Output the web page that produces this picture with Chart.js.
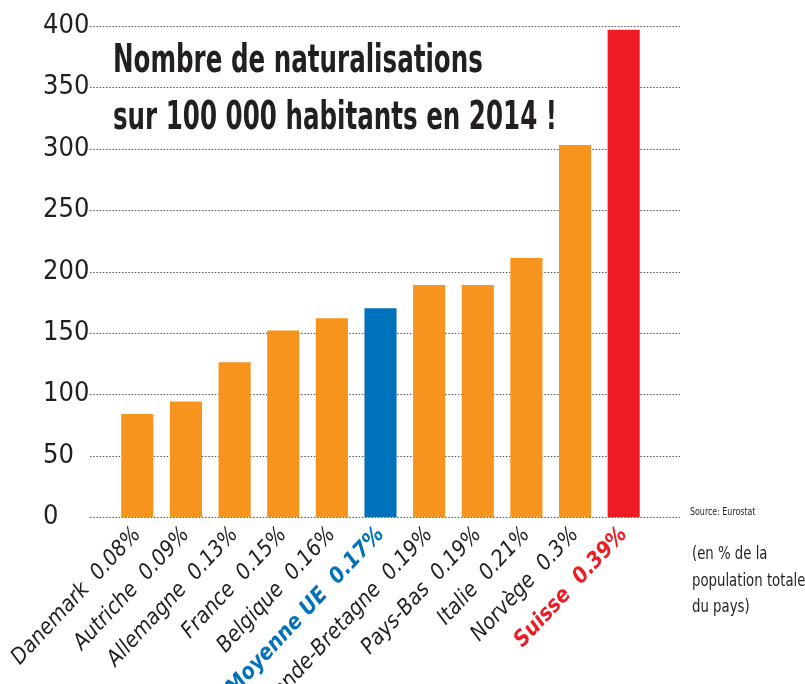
<!DOCTYPE html>
<html>
<head>
<meta charset="utf-8">
<script src="https://cdn.jsdelivr.net/npm/chart.js@4.4.1/dist/chart.umd.min.js"></script>
<style>
  html, body { margin: 0; padding: 0; background: #fff; }
  #wrap { position: relative; width: 805px; height: 684px; overflow: hidden; }
  #myChart { position: absolute; left: 0; top: 0; }
  .txt { position: absolute; font-family: "DejaVu Sans Condensed", "Liberation Sans Narrow", sans-serif; color: #231f20;
         white-space: nowrap; transform-origin: 0 0; }
  #title { left: 113px; top: 30px; font-size: 39px; font-weight: bold; line-height: 57px; transform: scaleX(0.7); }
  #source { left: 690px; top: 506px; font-size: 10px; transform: scaleX(0.88); }
  #note { left: 692px; top: 540px; font-size: 18px; line-height: 26.5px; transform: scaleX(0.82); }
</style>
</head>
<body>
<div id="wrap">
  <canvas id="myChart" width="805" height="684"></canvas>
  <div id="title" class="txt">Nombre de naturalisations<br>sur 100 000 habitants en 2014 !</div>
  <div id="source" class="txt">Source: Eurostat</div>
  <div id="note" class="txt">(en % de la<br>population totale<br>du pays)</div>
</div>
<script>
// data
const countries = ["Danemark", "Autriche", "Allemagne", "France", "Belgique", "Moyenne UE",
  "Grande-Bretagne", "Pays-Bas", "Italie", "Norvège", "Suisse"];
const shares = ["0.08%", "0.09%", "0.13%", "0.15%", "0.16%", "0.17%", "0.19%", "0.19%", "0.21%", "0.3%", "0.39%"];
const naturalisations = [84, 94, 126, 152, 162, 170, 189, 189, 211, 303, 397];
const yTicks = [0, 50, 100, 150, 200, 250, 300, 350, 400];

const ORANGE = "#f7941d", BLUE = "#0072bc", RED = "#ed1c24", INK = "#231f20";
const FONT = '"DejaVu Sans Condensed", "Liberation Sans Narrow", sans-serif';

const labels = countries.map((c, i) => c + "  " + shares[i]);
const barColors = countries.map((c) => c === "Moyenne UE" ? BLUE : (c === "Suisse" ? RED : ORANGE));
const labelColors = countries.map((c) => c === "Moyenne UE" ? BLUE : (c === "Suisse" ? RED : INK));

//dotted grid lines, wider than the bars area
const dottedGrid = {
  id: "dottedGrid",
  beforeDatasetsDraw(chart) {
    const { ctx, chartArea, scales } = chart;
    ctx.save();
    ctx.strokeStyle = "#4d4d4f";
    ctx.lineWidth = 1.2;
    ctx.setLineDash([1.4, 1.8]);
    yTicks.forEach((v) => {
      const y = Math.round(scales.y.getPixelForValue(v)) + 0.5;
      ctx.beginPath();
      ctx.moveTo(chartArea.left - 23, y);
      ctx.lineTo(chartArea.right + 32, y);
      ctx.stroke();
    });
    ctx.restore();
  }
};

new Chart(document.getElementById("myChart"), {
  type: "bar",
  data: {
    labels: labels,
    datasets: [{
      data: naturalisations,
      backgroundColor: barColors,
      borderWidth: 0,
      barPercentage: 0.66,
      categoryPercentage: 1
    }]
  },
  options: {
    responsive: false,
    animation: false,
    layout: { padding: { left: 43, right: 157, top: 26, bottom: 0 } },
    plugins: { legend: { display: false }, tooltip: { enabled: false } },
    scales: {
      x: {
        grid: { display: false, drawTicks: false },
        border: { display: false },
        ticks: {
          minRotation: 47,
          maxRotation: 47,
          padding: 5,
          autoSkip: false,
          color: labelColors,
          font: (c) => ({
            family: FONT,
            size: 22,
            style: "italic",
            weight: (c.index === 5 || c.index === 10) ? "bold" : "normal"
          })
        },
        afterFit(scale) { scale.height = 167; }
      },
      y: {
        min: 0,
        max: 400,
        grid: { display: false, drawTicks: false },
        border: { display: false },
        afterBuildTicks(scale) { scale.ticks = yTicks.map((v) => ({ value: v })); },
        ticks: {
          crossAlign: "far",
          padding: 0,
          color: INK,
          font: { family: FONT, size: 27 }
        },
        afterFit(scale) { scale.width = 70; }
      }
    }
  },
  plugins: [dottedGrid]
});
</script>
</body>
</html>
